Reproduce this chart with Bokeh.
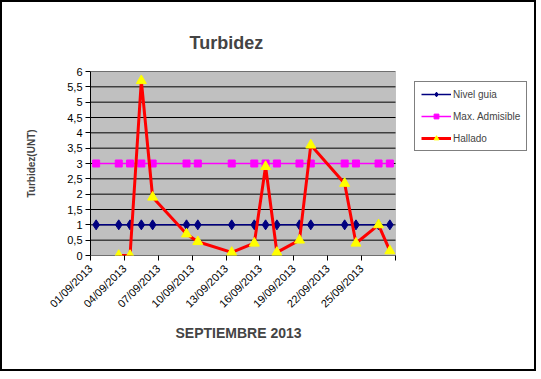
import math
from bokeh.plotting import figure
from bokeh.models import FixedTicker, Legend, LegendItem, BoxAnnotation, Title
from bokeh.embed import file_html
from bokeh.resources import INLINE

# ---- data (day of September 2013) ----
days = [1, 3, 4, 5, 6, 9, 10, 13, 15, 16, 17, 19, 20, 23, 24, 26, 27]
nivel_guia = [1, 1, 1, 1, 1, 1, 1, 1, 1, 1, 1, 1, 1, 1, 1, 1, 1]
max_admisible = [3, 3, 3, 3, 3, 3, 3, 3, 3, 3, 3, 3, 3, 3, 3, 3, 3]
hallado = [float("nan"), 0, 0, 5.7, 1.9, 0.7, 0.45, 0.1, 0.4, 2.9, 0.1, 0.5, 3.6, 2.35, 0.4, 1.0, 0.15]

x_tick_labels = ["01/09/2013", "04/09/2013", "07/09/2013", "10/09/2013", "13/09/2013",
                 "16/09/2013", "19/09/2013", "22/09/2013", "25/09/2013"]
y_tick_labels = ["0", "0,5", "1", "1,5", "2", "2,5", "3", "3,5", "4", "4,5", "5", "5,5", "6"]

FONT = "Liberation Sans"

# layout (pixels)
W, H = 536, 371
BL, BR, BT, BB = 88, 8, 69, 118
DATA_W = 305                      # width of the grey plotting area
FRAME_W = W - BL - BR             # frame also holds the legend

x_start, x_end = days[0] - 0.5, days[-1] + 0.5
y_ticks = [float(s.replace(",", ".")) for s in y_tick_labels]
y_lo, y_hi = y_ticks[0], y_ticks[-1]
frame_x_end = x_start + (x_end - x_start) * FRAME_W / DATA_W

p = figure(width=W, height=H, x_range=(x_start, frame_x_end), y_range=(y_lo, y_hi),
           output_backend="svg", toolbar_location=None,
           min_border_left=BL, min_border_right=BR, min_border_top=BT, min_border_bottom=BB,
           background_fill_color="white", border_fill_color="white",
           outline_line_color=None)
p.styles = {"border": "2px solid black"}

# grey plot area + horizontal gridlines
p.add_layout(BoxAnnotation(left=x_start, right=x_end, bottom=y_lo, top=y_hi,
                           fill_color="#C0C0C0", fill_alpha=1,
                           line_color="#808080", line_width=1, level="underlay"))
p.segment(x0=x_start, x1=x_end, y0=y_ticks, y1=y_ticks, line_color="black", line_width=1)

# title
p.title.text = "Turbidez"
p.title.text_font = FONT
p.title.text_font_size = "18px"
p.title.text_font_style = "bold"
p.title.align = "left"
p.title.offset = 99
p.title.standoff = 38

# series
r1l = p.line(days, nivel_guia, line_color="#000080", line_width=1.5)
r1m = p.scatter(days, nivel_guia, marker="diamond", size=10, fill_color="#000080", line_color="#000080")
r2l = p.line(days, max_admisible, line_color="#FF00FF", line_width=1.5)
r2m = p.scatter(days, max_admisible, marker="square", size=7, fill_color="#FF00FF", line_color="#FF00FF")
r3l = p.line(days, hallado, line_color="#FF0000", line_width=3)
r3m = p.scatter(days, hallado, marker="triangle", size=10, fill_color="#FFFF00", line_color="#FFFF00")

# axes
x_ticks = [int(s[:2]) - 0.5 for s in x_tick_labels] + [x_end]
p.xaxis.ticker = FixedTicker(ticks=x_ticks)
p.xaxis.major_label_overrides = {t: s for t, s in zip(x_ticks, x_tick_labels + [""])}
p.xaxis.major_label_orientation = math.pi / 4
p.xaxis.major_label_text_font = FONT
p.xaxis.major_label_text_font_size = "11px"
p.xaxis.major_label_text_color = "black"
p.xaxis.major_label_standoff = 6
p.xaxis.axis_line_color = None

x_title = Title(text="SEPTIEMBRE  2013", align="left", offset=85, standoff=13,
                text_font=FONT, text_font_size="14px", text_font_style="bold")
p.add_layout(x_title, "below")

p.yaxis.ticker = FixedTicker(ticks=y_ticks)
p.yaxis.major_label_overrides = {t: s for t, s in zip(y_ticks, y_tick_labels)}
p.yaxis.major_label_text_font = FONT
p.yaxis.major_label_text_font_size = "11px"
p.yaxis.major_label_text_color = "black"
p.yaxis.major_label_standoff = 3
p.yaxis.axis_label = "Turbidez(UNT)"
p.yaxis.axis_label_text_font = FONT
p.yaxis.axis_label_text_font_size = "10px"
p.yaxis.axis_label_text_font_style = "bold"
p.yaxis.axis_label_standoff = 27
p.yaxis.axis_line_color = "black"

for ax in (p.xaxis, p.yaxis):
    ax.major_tick_line_color = "black"
    ax.major_tick_in = 0
    ax.major_tick_out = 5
    ax.minor_tick_line_color = None

p.xgrid.grid_line_color = None
p.ygrid.grid_line_color = None

legend = Legend(items=[
    LegendItem(label="Nivel guia", renderers=[r1l, r1m]),
    LegendItem(label="Max. Admisible", renderers=[r2l, r2m]),
    LegendItem(label="Hallado", renderers=[r3l, r3m]),
], location=(DATA_W + 19, 104))
legend.label_text_font = FONT
legend.label_text_font_size = "10px"
legend.glyph_width = 30
legend.glyph_height = 12
legend.label_standoff = 2
legend.spacing = 10
legend.padding = 6
legend.margin = 0
legend.border_line_color = "black"
legend.border_line_width = 1
legend.background_fill_color = "white"
legend.background_fill_alpha = 1
p.add_layout(legend, "center")

open("out.html", "w").write(file_html(p, INLINE))
